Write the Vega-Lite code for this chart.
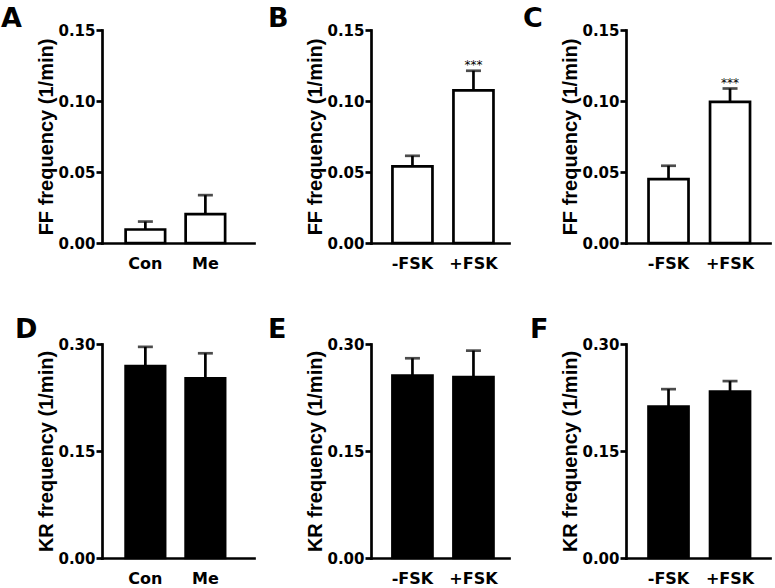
{
  "$schema": "https://vega.github.io/schema/vega-lite/v6.json",
  "padding": {"left": 1, "top": 5, "right": 3, "bottom": 3},
  "background": "white",
  "columns": 3,
  "spacing": {"row": 101, "column": 117},
  "bounds": "flush",
  "config": {
    "view": {"stroke": null},
    "axis": {
      "domainColor": "black", "domainWidth": 2.7, "domainCap": "square",
      "tickColor": "black", "tickWidth": 2.7, "tickSize": 6,
      "labelFont": "DejaVu Sans", "labelFontWeight": "bold", "labelFontSize": 15, "labelColor": "black",
      "titleFont": "Liberation Sans", "titleFontWeight": "bold", "titleFontSize": 20, "titleColor": "black",
      "grid": false, "labelPadding": 1, "titlePadding": 1
    },
    "axisX": {"ticks": false, "labelPadding": 12, "labelAngle": 0, "labelFontSize": 16},
    "title": {"anchor": "start", "frame": "group", "font": "DejaVu Sans", "fontWeight": "bold", "fontSize": 27, "color": "black", "baseline": "alphabetic", "offset": -10}
  },
  "concat": [
    {
      "width": 152, "height": 213,
      "title": {"text": "A", "dx": -101},
      "data": {"values": [
        {"group": "Con", "mean": 0.0095, "upper": 0.0151},
        {"group": "Me", "mean": 0.0203, "upper": 0.0337}
      ]},
      "encoding": {"x": {"field": "group", "type": "nominal", "sort": null, "title": null, "scale": {"paddingInner": 0.342, "paddingOuter": 0.4375, "align": 0.45}}},
      "layer": [
        {"mark": {"type": "rule", "strokeWidth": 2.7, "color": "black"},
         "encoding": {"y": {"field": "mean", "type": "quantitative", "title": "FF frequency (1/min)", "scale": {"domain": [0, 0.15], "nice": false}, "axis": {"values": [0, 0.05, 0.1, 0.15], "format": ".2f"}}, "y2": {"field": "upper"}}},
        {"mark": {"type": "tick", "orient": "horizontal", "size": 15, "thickness": 2.7, "color": "black"},
         "encoding": {"y": {"field": "upper", "type": "quantitative", "title": "FF frequency (1/min)"}}},
        {"mark": {"type": "bar", "fill": "white", "stroke": "black", "strokeWidth": 2.7},
         "encoding": {"y": {"field": "mean", "type": "quantitative", "title": "FF frequency (1/min)"}}}
      ]
    },
    {
      "width": 138, "height": 213,
      "title": {"text": "B", "dx": -103},
      "data": {"values": [
        {"group": "-FSK", "mean": 0.0539, "upper": 0.0614, "sig": ""},
        {"group": "+FSK", "mean": 0.1075, "upper": 0.1213, "sig": "***"}
      ]},
      "encoding": {"x": {"field": "group", "type": "nominal", "sort": null, "title": null, "scale": {"paddingInner": 0.344, "paddingOuter": 0.303, "align": 0.58}}},
      "layer": [
        {"mark": {"type": "rule", "strokeWidth": 2.7, "color": "black"},
         "encoding": {"y": {"field": "mean", "type": "quantitative", "title": "FF frequency (1/min)", "scale": {"domain": [0, 0.15], "nice": false}, "axis": {"values": [0, 0.05, 0.1, 0.15], "format": ".2f"}}, "y2": {"field": "upper"}}},
        {"mark": {"type": "tick", "orient": "horizontal", "size": 15, "thickness": 2.7, "color": "black"},
         "encoding": {"y": {"field": "upper", "type": "quantitative", "title": "FF frequency (1/min)"}}},
        {"mark": {"type": "bar", "fill": "white", "stroke": "black", "strokeWidth": 2.7},
         "encoding": {"y": {"field": "mean", "type": "quantitative", "title": "FF frequency (1/min)"}}},
        {"mark": {"type": "text", "font": "DejaVu Sans", "fontSize": 12, "baseline": "alphabetic", "dy": -2, "fill": "black"},
         "encoding": {"y": {"field": "upper", "type": "quantitative", "title": "FF frequency (1/min)"}, "text": {"field": "sig"}}}
      ]
    },
    {
      "width": 144, "height": 213,
      "title": {"text": "C", "dx": -103},
      "data": {"values": [
        {"group": "-FSK", "mean": 0.045, "upper": 0.0544, "sig": ""},
        {"group": "+FSK", "mean": 0.0994, "upper": 0.1088, "sig": "***"}
      ]},
      "encoding": {"x": {"field": "group", "type": "nominal", "sort": null, "title": null, "scale": {"paddingInner": 0.35, "paddingOuter": 0.3455, "align": 0.53}}},
      "layer": [
        {"mark": {"type": "rule", "strokeWidth": 2.7, "color": "black"},
         "encoding": {"y": {"field": "mean", "type": "quantitative", "title": "FF frequency (1/min)", "scale": {"domain": [0, 0.15], "nice": false}, "axis": {"values": [0, 0.05, 0.1, 0.15], "format": ".2f"}}, "y2": {"field": "upper"}}},
        {"mark": {"type": "tick", "orient": "horizontal", "size": 15, "thickness": 2.7, "color": "black"},
         "encoding": {"y": {"field": "upper", "type": "quantitative", "title": "FF frequency (1/min)"}}},
        {"mark": {"type": "bar", "fill": "white", "stroke": "black", "strokeWidth": 2.7},
         "encoding": {"y": {"field": "mean", "type": "quantitative", "title": "FF frequency (1/min)"}}},
        {"mark": {"type": "text", "font": "DejaVu Sans", "fontSize": 12, "baseline": "alphabetic", "dy": -2, "fill": "black"},
         "encoding": {"y": {"field": "upper", "type": "quantitative", "title": "FF frequency (1/min)"}, "text": {"field": "sig"}}}
      ]
    },
    {
      "width": 152, "height": 214,
      "title": {"text": "D", "dx": -87, "offset": -7},
      "data": {"values": [
        {"group": "Con", "mean": 0.269, "upper": 0.296},
        {"group": "Me", "mean": 0.252, "upper": 0.287}
      ]},
      "encoding": {"x": {"field": "group", "type": "nominal", "sort": null, "title": null, "scale": {"paddingInner": 0.342, "paddingOuter": 0.4375, "align": 0.45}}},
      "layer": [
        {"mark": {"type": "rule", "strokeWidth": 2.7, "color": "black"},
         "encoding": {"y": {"field": "mean", "type": "quantitative", "title": "KR frequency (1/min)", "scale": {"domain": [0, 0.3], "nice": false}, "axis": {"values": [0, 0.15, 0.3], "format": ".2f"}}, "y2": {"field": "upper"}}},
        {"mark": {"type": "tick", "orient": "horizontal", "size": 15, "thickness": 2.7, "color": "black"},
         "encoding": {"y": {"field": "upper", "type": "quantitative", "title": "KR frequency (1/min)"}}},
        {"mark": {"type": "bar", "fill": "black", "stroke": "black", "strokeWidth": 2.7},
         "encoding": {"y": {"field": "mean", "type": "quantitative", "title": "KR frequency (1/min)"}}}
      ]
    },
    {
      "width": 138, "height": 214,
      "title": {"text": "E", "dx": -103, "offset": -7},
      "data": {"values": [
        {"group": "-FSK", "mean": 0.2556, "upper": 0.28},
        {"group": "+FSK", "mean": 0.2537, "upper": 0.2907}
      ]},
      "encoding": {"x": {"field": "group", "type": "nominal", "sort": null, "title": null, "scale": {"paddingInner": 0.344, "paddingOuter": 0.303, "align": 0.58}}},
      "layer": [
        {"mark": {"type": "rule", "strokeWidth": 2.7, "color": "black"},
         "encoding": {"y": {"field": "mean", "type": "quantitative", "title": "KR frequency (1/min)", "scale": {"domain": [0, 0.3], "nice": false}, "axis": {"values": [0, 0.15, 0.3], "format": ".2f"}}, "y2": {"field": "upper"}}},
        {"mark": {"type": "tick", "orient": "horizontal", "size": 15, "thickness": 2.7, "color": "black"},
         "encoding": {"y": {"field": "upper", "type": "quantitative", "title": "KR frequency (1/min)"}}},
        {"mark": {"type": "bar", "fill": "black", "stroke": "black", "strokeWidth": 2.7},
         "encoding": {"y": {"field": "mean", "type": "quantitative", "title": "KR frequency (1/min)"}}}
      ]
    },
    {
      "width": 144, "height": 214,
      "title": {"text": "F", "dx": -96, "offset": -7},
      "data": {"values": [
        {"group": "-FSK", "mean": 0.2123, "upper": 0.2367},
        {"group": "+FSK", "mean": 0.2334, "upper": 0.248}
      ]},
      "encoding": {"x": {"field": "group", "type": "nominal", "sort": null, "title": null, "scale": {"paddingInner": 0.35, "paddingOuter": 0.3455, "align": 0.53}}},
      "layer": [
        {"mark": {"type": "rule", "strokeWidth": 2.7, "color": "black"},
         "encoding": {"y": {"field": "mean", "type": "quantitative", "title": "KR frequency (1/min)", "scale": {"domain": [0, 0.3], "nice": false}, "axis": {"values": [0, 0.15, 0.3], "format": ".2f"}}, "y2": {"field": "upper"}}},
        {"mark": {"type": "tick", "orient": "horizontal", "size": 15, "thickness": 2.7, "color": "black"},
         "encoding": {"y": {"field": "upper", "type": "quantitative", "title": "KR frequency (1/min)"}}},
        {"mark": {"type": "bar", "fill": "black", "stroke": "black", "strokeWidth": 2.7},
         "encoding": {"y": {"field": "mean", "type": "quantitative", "title": "KR frequency (1/min)"}}}
      ]
    }
  ]
}
